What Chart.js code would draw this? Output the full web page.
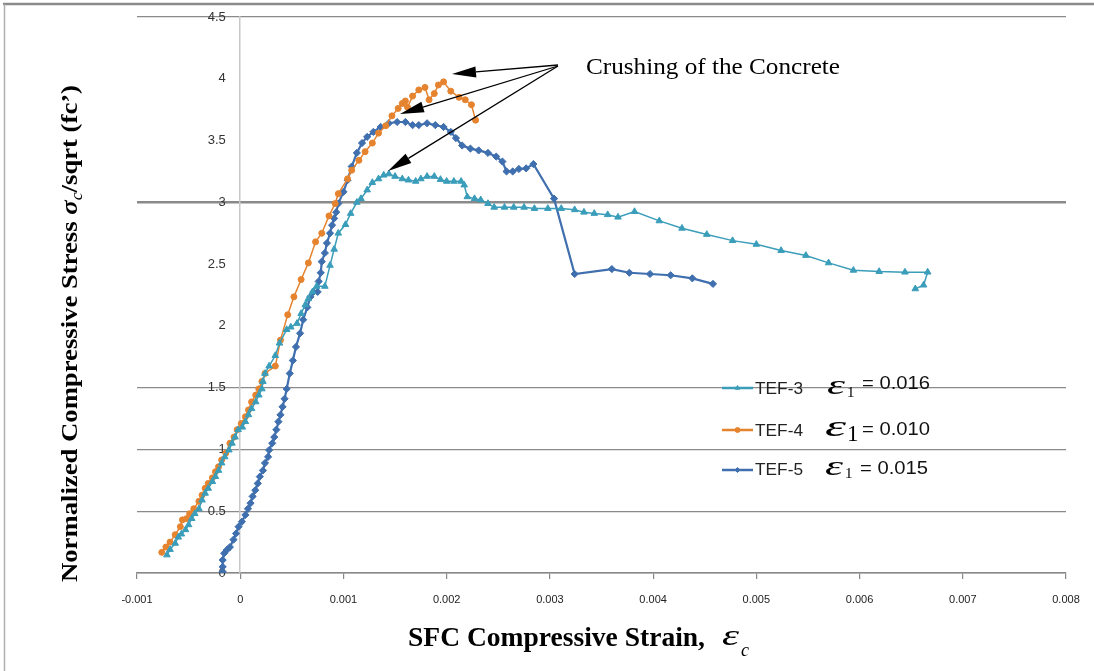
<!DOCTYPE html>
<html><head><meta charset="utf-8">
<script src="https://cdn.jsdelivr.net/npm/chart.js@4.4.0/dist/chart.umd.min.js"></script>
<style>html,body{margin:0;padding:0;background:#fff;}#wrap{position:relative;width:1094px;height:671px;}</style>
</head><body><div id="wrap"><canvas id="c" width="1094" height="671"></canvas></div>
<script>
// ---- data ----
const xTickLabels = ['-0.001','0','0.001','0.002','0.003','0.004','0.005','0.006','0.007','0.008'];
const yTickLabels = ['0','0.5','1','1.5','2','2.5','3','3.5','4','4.5'];
const seriesNames = ['TEF-3','TEF-4','TEF-5'];
const epsilon1Values = ['0.016','0.010','0.015'];

const tef3Strain = [-0.00071,-0.00068,-0.00063,-0.00060,-0.00057,-0.00053,-0.00050,-0.00047,-0.00044,-0.00040,-0.00037,-0.00034,-0.00031,-0.00027,-0.00024,-0.00021,-0.00018,-0.00015,-0.00011,-0.00008,-0.00005,-0.00002,0.00002,0.00005,0.00008,0.00011,0.00015,0.00018,0.00021,0.00022,0.00024,0.00028,0.00034,0.00038,0.00045,0.00049,0.00055,0.00059,0.00063,0.00066,0.00070,0.00074,0.00082,0.00087,0.00091,0.00095,0.00102,0.00107,0.00113,0.00117,0.00123,0.00128,0.00134,0.00139,0.00144,0.00150,0.00157,0.00163,0.00170,0.00175,0.00181,0.00188,0.00194,0.00200,0.00207,0.00214,0.00217,0.00220,0.00227,0.00233,0.00240,0.00246,0.00256,0.00265,0.00275,0.00285,0.00298,0.00311,0.00324,0.00333,0.00343,0.00356,0.00366,0.00382,0.00406,0.00428,0.00452,0.00477,0.00500,0.00524,0.00548,0.00570,0.00594,0.00619,0.00644,0.00666,0.00662,0.00654];
const tef3Stress = [0.146,0.19,0.24,0.29,0.315,0.35,0.39,0.44,0.48,0.52,0.59,0.645,0.685,0.74,0.78,0.83,0.89,0.94,0.995,1.05,1.10,1.16,1.18,1.225,1.28,1.33,1.385,1.44,1.49,1.55,1.615,1.675,1.76,1.86,1.97,1.99,2.02,2.10,2.17,2.22,2.275,2.32,2.32,2.49,2.62,2.75,2.82,2.91,3.00,3.03,3.10,3.16,3.19,3.22,3.23,3.21,3.19,3.18,3.17,3.19,3.21,3.21,3.185,3.17,3.17,3.17,3.14,3.045,3.03,3.02,2.99,2.96,2.96,2.96,2.96,2.95,2.95,2.95,2.94,2.92,2.91,2.90,2.88,2.925,2.85,2.79,2.74,2.69,2.66,2.61,2.57,2.51,2.45,2.44,2.435,2.435,2.33,2.30];

const tef4Strain = [-0.00076,-0.00072,-0.00068,-0.00063,-0.00058,-0.00056,-0.00052,-0.00049,-0.00045,-0.00040,-0.00037,-0.00034,-0.00031,-0.00027,-0.00024,-0.00021,-0.00018,-0.00014,-0.00010,-0.00006,-0.00003,0.00001,0.00005,0.00008,0.00011,0.00015,0.00018,0.00021,0.00024,0.00034,0.00039,0.00046,0.00052,0.00059,0.00066,0.00073,0.00079,0.00086,0.00092,0.00095,0.00104,0.00108,0.00115,0.00121,0.00128,0.00134,0.00141,0.00147,0.00153,0.00157,0.00160,0.00162,0.00167,0.00173,0.00179,0.00183,0.00188,0.00192,0.00197,0.00204,0.00212,0.00218,0.00224,0.00228];
const tef4Stress = [0.167,0.21,0.25,0.31,0.375,0.43,0.44,0.48,0.52,0.58,0.63,0.685,0.725,0.77,0.82,0.86,0.915,0.97,1.05,1.10,1.16,1.21,1.265,1.32,1.385,1.44,1.49,1.55,1.615,1.675,1.885,2.09,2.235,2.375,2.51,2.68,2.75,2.89,2.99,3.07,3.19,3.26,3.34,3.41,3.48,3.56,3.62,3.70,3.76,3.80,3.82,3.77,3.86,3.91,3.93,3.83,3.88,3.95,3.975,3.90,3.85,3.83,3.79,3.665];

const tef5Strain = [-0.00017,-0.00017,-0.00017,-0.000155,-0.00013,-0.00010,-0.000065,-0.00004,-0.000016,0.000016,0.00005,0.000075,0.00010,0.00012,0.000146,0.00017,0.00019,0.00022,0.00024,0.00027,0.00028,0.00031,0.00033,0.00035,0.00037,0.00039,0.00041,0.00043,0.00045,0.00048,0.00051,0.00054,0.00058,0.00061,0.00065,0.00068,0.00071,0.00075,0.00076,0.00078,0.00079,0.00082,0.00084,0.00087,0.00089,0.00091,0.00093,0.00095,0.00100,0.00104,0.00108,0.00113,0.00118,0.00123,0.00129,0.00136,0.00144,0.00152,0.00160,0.00167,0.00173,0.00181,0.00189,0.00197,0.00204,0.00209,0.00215,0.00223,0.00231,0.00240,0.00248,0.00254,0.00258,0.00264,0.00270,0.00277,0.00284,0.00304,0.00324,0.00360,0.00377,0.00397,0.00417,0.00438,0.00458];
const tef5Stress = [0.01,0.05,0.105,0.16,0.186,0.21,0.27,0.32,0.375,0.415,0.47,0.52,0.565,0.62,0.67,0.725,0.78,0.83,0.89,0.94,0.995,1.05,1.10,1.16,1.225,1.28,1.345,1.41,1.49,1.615,1.72,1.83,1.94,2.05,2.15,2.235,2.275,2.275,2.36,2.43,2.52,2.59,2.67,2.75,2.815,2.87,2.92,2.99,3.085,3.18,3.29,3.40,3.48,3.53,3.57,3.61,3.64,3.65,3.65,3.625,3.625,3.64,3.625,3.61,3.57,3.52,3.46,3.435,3.42,3.40,3.37,3.33,3.25,3.25,3.27,3.275,3.31,3.03,2.42,2.46,2.43,2.42,2.41,2.385,2.34];

const gridValues = [0,0.5,1,1.5,3,4.5];
// ---- styles ----
const colors = ['#3A9DBA','#E5832F','#3F6FAE'];
const pointStyles = ['triangle','circle','rectRot'];
const pointRadii = [3.8,3,3.6];
const lineWidths = [1.5,1.5,2.2];

const toPts = (xs, ys) => xs.map((x, i) => ({x: x, y: ys[i]}));
const seriesData = [toPts(tef3Strain, tef3Stress), toPts(tef4Strain, tef4Stress), toPts(tef5Strain, tef5Stress)];

const datasets = seriesData.map((d, i) => ({
  label: seriesNames[i], data: d, borderColor: colors[i], backgroundColor: colors[i],
  borderWidth: lineWidths[i], pointStyle: pointStyles[i], pointRadius: pointRadii[i], pointHoverRadius: pointRadii[i],
  pointBorderWidth: 1, showLine: true, tension: 0, fill: false
}));

function fitText(ctx, text, x, y, width) {
  const w = ctx.measureText(text).width;
  ctx.save(); ctx.translate(x, y); ctx.scale(width / w, 1); ctx.fillText(text, 0, 0); ctx.restore();
}
function arrow(ctx, x0, y0, x1, y1) {
  const a = Math.atan2(y1 - y0, x1 - x0), L = 24, H = 5.5;
  const bx = x1 - L * Math.cos(a), by = y1 - L * Math.sin(a);
  ctx.beginPath(); ctx.moveTo(x0, y0); ctx.lineTo(bx, by); ctx.stroke();
  ctx.beginPath(); ctx.moveTo(x1, y1);
  ctx.lineTo(bx + H * Math.sin(a), by - H * Math.cos(a));
  ctx.lineTo(bx - H * Math.sin(a), by + H * Math.cos(a));
  ctx.closePath(); ctx.fill();
}

const decor = {
  id: 'decor',
  afterDraw(chart) {
    const ctx = chart.ctx;
    ctx.save();
    // frame
    ctx.strokeStyle = '#8a8a8a'; ctx.lineWidth = 2.5;
    ctx.beginPath(); ctx.moveTo(3, 4); ctx.lineTo(1094, 4); ctx.stroke();
    ctx.strokeStyle = '#b0b0b0'; ctx.lineWidth = 1.5;
    ctx.beginPath(); ctx.moveTo(4.5, 4); ctx.lineTo(4.5, 671); ctx.stroke();

    ctx.fillStyle = '#000'; ctx.textBaseline = 'alphabetic'; ctx.textAlign = 'left';
    // y title
    ctx.save();
    ctx.translate(77, 582); ctx.rotate(-Math.PI / 2);
    const partsY = [
      ['bold 24px "Liberation Serif"', 'Normalized Compressive Stress ', 0],
      ['bold italic 24px "Liberation Serif"', 'σ', 0],
      ['italic 16px "Liberation Serif"', 'c', 5],
      ['bold 24px "Liberation Serif"', '/sqrt (fc’)', 0]
    ];
    let tot = 0; partsY.forEach(p => { ctx.font = p[0]; tot += ctx.measureText(p[1]).width; });
    ctx.scale(497 / tot, 1);
    let px = 0;
    partsY.forEach(p => { ctx.font = p[0]; ctx.fillText(p[1], px, p[2]); px += ctx.measureText(p[1]).width; });
    ctx.restore();

    // x title
    ctx.font = 'bold 27px "Liberation Serif"';
    fitText(ctx, 'SFC Compressive Strain,', 408, 646, 297);
    ctx.font = 'italic 30px "Liberation Serif"';
    fitText(ctx, 'ε', 722, 645, 17);
    ctx.font = 'italic 18px "Liberation Serif"';
    ctx.fillText('c', 741, 656);

    // annotation
    ctx.font = '23px "Liberation Serif"';
    fitText(ctx, 'Crushing of the Concrete', 586, 74, 254);
    ctx.strokeStyle = '#000'; ctx.fillStyle = '#000'; ctx.lineWidth = 1.3;
    arrow(ctx, 558, 65, 452, 74);
    arrow(ctx, 558, 66, 400, 114);
    arrow(ctx, 558, 66, 388, 171);

    // legend
    const rows = [
      {ly: 388, ty: 394, ex: 827, es: 28, ew: 18, sx: 847, ss: 15, sy: 397, vx: 862, vy: 389},
      {ly: 430, ty: 436, ex: 825, es: 30, ew: 21, sx: 847, ss: 23, sy: 441, vx: 862, vy: 435},
      {ly: 470, ty: 475, ex: 825, es: 28, ew: 18, sx: 845, ss: 15, sy: 478, vx: 860, vy: 474}
    ];
    rows.forEach((r, i) => {
      ctx.strokeStyle = colors[i]; ctx.lineWidth = 2.5;
      ctx.beginPath(); ctx.moveTo(722, r.ly); ctx.lineTo(753, r.ly); ctx.stroke();
      ctx.fillStyle = colors[i]; ctx.strokeStyle = colors[i]; ctx.lineWidth = 1;
      Chart.helpers.drawPoint(ctx, {pointStyle: pointStyles[i], radius: 2.5, rotation: 0, borderWidth: 1}, 737.5, r.ly);
      ctx.fillStyle = '#222';
      ctx.font = '17px "Liberation Sans"';
      fitText(ctx, seriesNames[i], 755, r.ty, 48);
      ctx.fillStyle = '#000';
      ctx.font = 'italic ' + r.es + 'px "Liberation Serif"';
      fitText(ctx, 'ε', r.ex, r.ty, r.ew);
      ctx.font = r.ss + 'px "Liberation Serif"';
      ctx.fillText('1', r.sx, r.sy);
      ctx.fillStyle = '#111';
      ctx.font = '18px "Liberation Sans"';
      fitText(ctx, '= ' + epsilon1Values[i], r.vx, r.vy, 68);
    });
    ctx.restore();
  }
};

new Chart(document.getElementById('c'), {
  type: 'scatter',
  data: {datasets: datasets},
  plugins: [decor],
  options: {
    responsive: false, animation: false, devicePixelRatio: 1,
    layout: {padding: {left: 137, right: 28, top: 17, bottom: 58}},
    plugins: {legend: {display: false}, tooltip: {enabled: false}},
    scales: {
      x: {
        type: 'linear', position: 'bottom', min: -0.001, max: 0.008,
        afterFit: s => { s.height = 40; },
        ticks: {stepSize: 0.001, padding: 14, color: '#222', maxRotation: 0, autoSkip: false,
          font: {family: '"Liberation Sans Narrow","Liberation Sans"', size: 11},
          callback: (v, i) => xTickLabels[i]},
        grid: {drawOnChartArea: false, drawTicks: true, tickLength: 6, color: '#888', lineWidth: 1.2},
        border: {color: '#888', width: 1.5}
      },
      y: {
        type: 'linear', position: {x: 0}, min: 0, max: 4.5,
        afterFit: s => { s.width = 0; },
        ticks: {stepSize: 0.5, padding: 4, color: '#333',
          font: {family: '"Liberation Sans"', size: 13},
          callback: (v, i) => yTickLabels[i] + '\u2007\u2007'},
        grid: {
          drawTicks: true, tickLength: 10, tickColor: 'rgba(0,0,0,0)',
          color: c => gridValues.some(g => Math.abs(g - c.tick.value) < 1e-9) ? '#8a8a8a' : 'rgba(0,0,0,0)',
          lineWidth: c => Math.abs(c.tick.value - 3) < 1e-9 ? 2.5 : 1.3
        },
        border: {color: '#c8c8c8', width: 1.5}
      }
    }
  }
});
</script>
</body></html>
